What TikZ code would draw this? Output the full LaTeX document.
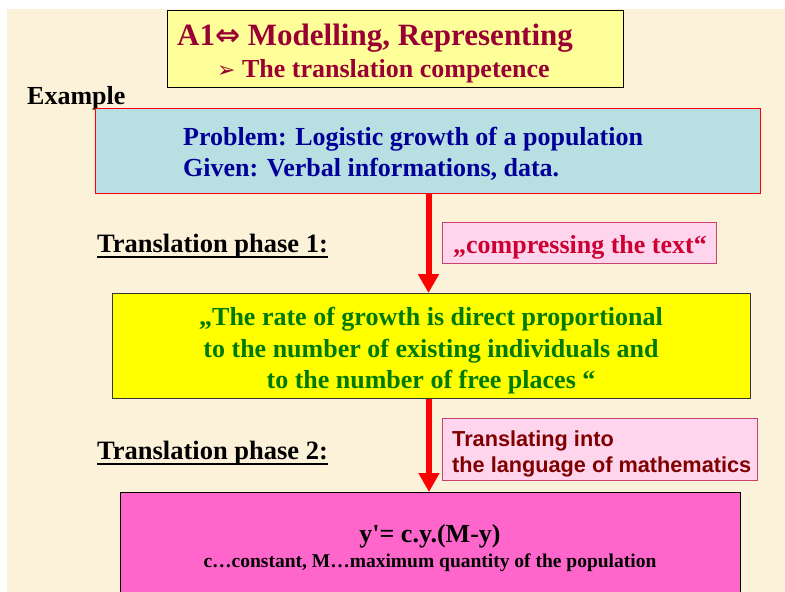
\documentclass[tikz,border=0pt]{standalone}
\usepackage{fontspec}
\setmainfont{Liberation Serif}
\setsansfont{Liberation Sans}
\newfontfamily\symfont{DejaVu Sans}
\newfontfamily\plainserif{Liberation Serif}[Ligatures=TeXOff]
\usetikzlibrary{arrows.meta}
\definecolor{bgcol}{HTML}{FCF2DA}
\definecolor{titlefill}{HTML}{FFFF99}
\definecolor{titletext}{HTML}{990033}
\definecolor{bluefill}{HTML}{B8DFE2}
\definecolor{bluetext}{HTML}{000099}
\definecolor{pinkfill}{HTML}{FFD5EE}
\definecolor{pinkborder}{HTML}{C8446E}
\definecolor{compresstext}{HTML}{CC0033}
\definecolor{mathtext}{HTML}{800000}
\definecolor{yellowfill}{HTML}{FFFF00}
\definecolor{greentext}{HTML}{007A00}
\definecolor{magentafill}{HTML}{FF66CC}
\tikzset{
  box/.style={anchor=north west, inner sep=0pt, line width=1pt},
  txt/.style={anchor=base west, inner sep=0pt},
  ctxt/.style={anchor=base, inner sep=0pt},
  redarrow/.style={draw=red, line width=6pt, -{Triangle[length=19pt,width=20pt]}},
}
\begin{document}
\begin{tikzpicture}[x=1pt,y=-1pt]
\useasboundingbox (0,0) rectangle (785,592);
\clip (0,0) rectangle (785,592);
\fill[bgcol] (7,9) rectangle (785,592);
% title
\node[box, fill=titlefill, draw=black, minimum width=456pt, minimum height=77pt] (title) at (167,10) {};
\node[txt, text=titletext, font=\fontsize{31}{34}\selectfont\bfseries] (t1) at (177,45) {A1{\symfont\fontsize{30}{32}\selectfont ⇔} Modelling, Representing};
\node[txt, text=titletext, font=\fontsize{26}{30}\selectfont\bfseries] (t2) at (217,77) {{\symfont\fontsize{22}{24}\selectfont ➢} The translation competence};
% example
\node[txt, font=\fontsize{26}{28}\selectfont\bfseries] (ex) at (27,104) {Example};
% problem box
\node[box, fill=bluefill, draw=red, minimum width=665pt, minimum height=85pt] (blue) at (95,108) {};
\node[txt, text=bluetext, font=\fontsize{26}{30}\selectfont\bfseries] (b1) at (183,145) {Problem: Logistic growth of a population};
\node[txt, text=bluetext, font=\fontsize{26}{30}\selectfont\bfseries] (b2) at (183,176) {Given: Verbal informations, data.};
% phase 1
\node[txt, font=\fontsize{26.5}{30}\selectfont\bfseries] (p1) at (97,252) {Translation phase 1:};
\draw[line width=2pt] ([yshift=-5pt]p1.base west) -- ([yshift=-5pt]p1.base east);
\node[box, fill=pinkfill, draw=pinkborder, minimum width=274pt, minimum height=41pt] (comp) at (442,222) {};
\node[ctxt, text=compresstext, font=\fontsize{26}{30}\selectfont\bfseries] (ct) at (580,253) {„compressing the text“};
% yellow box
\node[box, fill=yellowfill, draw=black!80, minimum width=638pt, minimum height=105pt] (yellow) at (112,293) {};
\node[ctxt, text=greentext, font=\fontsize{26}{30}\selectfont\bfseries] (g1) at (431,325) {„The rate of growth is direct proportional};
\node[ctxt, text=greentext, font=\fontsize{26}{30}\selectfont\bfseries] (g2) at (431,357) {to the number of existing individuals and};
\node[ctxt, text=greentext, font=\fontsize{26}{30}\selectfont\bfseries] (g3) at (431,388) {to the number of free places “};
% phase 2
\node[txt, font=\fontsize{26.5}{30}\selectfont\bfseries] (p2) at (97,459) {Translation phase 2:};
\draw[line width=2pt] ([yshift=-5pt]p2.base west) -- ([yshift=-5pt]p2.base east);
\node[box, fill=pinkfill, draw=pinkborder, minimum width=315pt, minimum height=62pt] (lang) at (442,418) {};
\node[txt, text=mathtext, font=\fontsize{21.7}{26}\selectfont\sffamily\bfseries] (l1) at (452,446) {Translating into};
\node[txt, text=mathtext, font=\fontsize{21.7}{26}\selectfont\sffamily\bfseries] (l2) at (452,472) {the language of mathematics};
% magenta box
\node[box, fill=magentafill, draw=black, minimum width=620pt, minimum height=110pt] (mag) at (120,492) {};
\node[ctxt, font=\fontsize{26}{30}\selectfont\plainserif\bfseries] (eq) at (430,542) {y'= c.y.(M-y)};
\node[ctxt, font=\fontsize{19.5}{23}\selectfont\bfseries] (leg) at (430,567) {c…constant, M…maximum quantity of the population};
% arrows
\draw[redarrow] ([xshift=0.5pt]blue.south) -- ([xshift=0.5pt]blue.south |- yellow.north);
\draw[redarrow] ([xshift=-2.5pt]yellow.south) -- ([xshift=-2.5pt]yellow.south |- mag.north);
\end{tikzpicture}
\end{document}
